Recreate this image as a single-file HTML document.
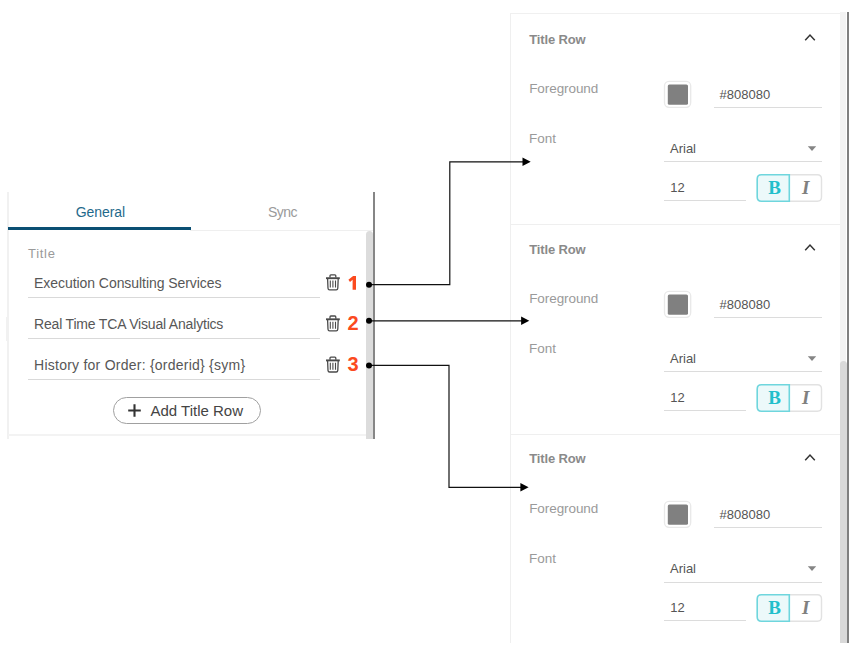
<!DOCTYPE html>
<html><head><meta charset="utf-8"><title>Title Rows</title>
<style>
html,body{margin:0;padding:0;background:#fff;}
body{width:851px;height:645px;position:relative;overflow:hidden;font-family:"Liberation Sans",sans-serif;}
.t{position:absolute;line-height:1;white-space:nowrap;}
.b{position:absolute;box-sizing:border-box;}
svg{position:absolute;left:0;top:0;}
</style></head><body>

<div class="b" style="left:7px;top:192px;width:2px;height:247px;background:#f1f1f1;"></div>
<div class="b" style="left:6px;top:317px;width:1px;height:24px;background:#f1f1f1;"></div>
<div class="b" style="left:8px;top:434px;width:358px;height:2px;background:#f3f3f3;"></div>
<div class="b" style="left:190px;top:230px;width:183px;height:1px;background:#efefef;"></div>
<div class="b" style="left:8px;top:227px;width:183px;height:3px;background:#0b4f73;"></div>
<div class="b" style="left:366px;top:231px;width:7px;height:208.3px;background:#dcdcdc;border-radius:4px 4px 0 0;"></div>
<div class="b" style="left:373px;top:192px;width:2px;height:247.3px;background:#868686;"></div>
<div class="b" style="left:28px;top:297px;width:292px;height:1px;background:#d9d9d9;"></div>
<div class="b" style="left:28px;top:338px;width:292px;height:1px;background:#d9d9d9;"></div>
<div class="b" style="left:28px;top:379px;width:292px;height:1px;background:#d9d9d9;"></div>
<div class="b" style="left:113px;top:397px;width:148px;height:27px;border:1px solid #a0a0a0;border-radius:14px;background:#fff;"></div>
<div class="b" style="left:510px;top:13px;width:1px;height:630px;background:#efefef;"></div>
<div class="b" style="left:510px;top:13px;width:331px;height:1px;background:#f0f0f0;"></div>
<div class="b" style="left:840px;top:12px;width:6px;height:631px;background:#f3f3f3;"></div>
<div class="b" style="left:840px;top:361px;width:7px;height:282px;background:#d9d9d9;border-radius:4px 4px 0 0;"></div>
<div class="b" style="left:847px;top:12px;width:2px;height:631px;background:#808080;"></div>
<div class="b" style="left:713.5px;top:107px;width:108.5px;height:1px;background:#dcdcdc;"></div>
<div class="b" style="left:664px;top:161px;width:158px;height:1px;background:#dcdcdc;"></div>
<div class="b" style="left:664px;top:200px;width:81.5px;height:1px;background:#dcdcdc;"></div>
<div class="b" style="left:510px;top:224px;width:330px;height:1px;background:#efefef;"></div>
<div class="b" style="left:713.5px;top:317px;width:108.5px;height:1px;background:#dcdcdc;"></div>
<div class="b" style="left:664px;top:371px;width:158px;height:1px;background:#dcdcdc;"></div>
<div class="b" style="left:664px;top:410px;width:81.5px;height:1px;background:#dcdcdc;"></div>
<div class="b" style="left:510px;top:434px;width:330px;height:1px;background:#efefef;"></div>
<div class="b" style="left:713.5px;top:527px;width:108.5px;height:1px;background:#dcdcdc;"></div>
<div class="b" style="left:664px;top:582px;width:158px;height:1px;background:#dcdcdc;"></div>
<div class="b" style="left:664px;top:620px;width:81.5px;height:1px;background:#dcdcdc;"></div>
<svg width="851" height="645" viewBox="0 0 851 645">
<g fill="none" stroke="#111" stroke-width="1.2">
<path d="M369 284.7 H449.8 V161.8 H523"/>
<path d="M369 320.8 H523"/>
<path d="M369 365.4 H449 V487.3 H523"/>
</g>
<g fill="#000">
<circle cx="369" cy="284.7" r="3"/>
<circle cx="369" cy="320.8" r="3"/>
<circle cx="369" cy="365.4" r="3"/>
<path d="M530.7 161.8 L522.5 157.60000000000002 L522.5 166.0 Z"/>
<path d="M529.3 320.8 L521.0999999999999 316.6 L521.0999999999999 325.0 Z"/>
<path d="M528.6 487.3 L520.4 483.1 L520.4 491.5 Z"/>
</g>
<path d="M805.2 40.3 L810 35 L814.8 40.3" fill="none" stroke="#333" stroke-width="1.5"/>
<path d="M807.8 146.3 H816.2 L812 150.9 Z" fill="#858585"/>
<path d="M789.3 174.7 H817.3 Q821.5 174.7 821.5 178.89999999999998 V197.10000000000002 Q821.5 201.3 817.3 201.3 H789.3" fill="#fff" stroke="#e2e2e2" stroke-width="1.4"/>
<path d="M789.3 174.7 H761.4 Q757.2 174.7 757.2 178.89999999999998 V197.10000000000002 Q757.2 201.3 761.4 201.3 H789.3 Z" fill="#ecf9fa" stroke="#6fd6dd" stroke-width="1.6"/>
<rect x="664.5" y="81.3" width="26.2" height="26" rx="4.5" fill="#fff" stroke="#e9e9e9" stroke-width="1.3"/>
<rect x="667.8" y="84.4" width="20.2" height="20.4" rx="1.6" fill="#808080"/>
<path d="M805.2 250.3 L810 245 L814.8 250.3" fill="none" stroke="#333" stroke-width="1.5"/>
<path d="M807.8 356.3 H816.2 L812 360.9 Z" fill="#858585"/>
<path d="M789.3 384.7 H817.3 Q821.5 384.7 821.5 388.9 V407.1 Q821.5 411.3 817.3 411.3 H789.3" fill="#fff" stroke="#e2e2e2" stroke-width="1.4"/>
<path d="M789.3 384.7 H761.4 Q757.2 384.7 757.2 388.9 V407.1 Q757.2 411.3 761.4 411.3 H789.3 Z" fill="#ecf9fa" stroke="#6fd6dd" stroke-width="1.6"/>
<rect x="664.5" y="291.3" width="26.2" height="26" rx="4.5" fill="#fff" stroke="#e9e9e9" stroke-width="1.3"/>
<rect x="667.8" y="294.4" width="20.2" height="20.4" rx="1.6" fill="#808080"/>
<path d="M805.2 460.3 L810 455 L814.8 460.3" fill="none" stroke="#333" stroke-width="1.5"/>
<path d="M807.8 566.3 H816.2 L812 570.9 Z" fill="#858585"/>
<path d="M789.3 594.7 H817.3 Q821.5 594.7 821.5 598.9000000000001 V617.0999999999999 Q821.5 621.3 817.3 621.3 H789.3" fill="#fff" stroke="#e2e2e2" stroke-width="1.4"/>
<path d="M789.3 594.7 H761.4 Q757.2 594.7 757.2 598.9000000000001 V617.0999999999999 Q757.2 621.3 761.4 621.3 H789.3 Z" fill="#ecf9fa" stroke="#6fd6dd" stroke-width="1.6"/>
<rect x="664.5" y="501.3" width="26.2" height="26" rx="4.5" fill="#fff" stroke="#e9e9e9" stroke-width="1.3"/>
<rect x="667.8" y="504.4" width="20.2" height="20.4" rx="1.6" fill="#808080"/>
<path d="M356 275.9 H353.1 L348.4 279.7 L350 281.9 L352.6 279.8 V289.7 H356 Z" fill="#fb4a1e"/>
<path d="M128.2 410.5 H140.8 M134.5 404.2 V416.8" stroke="#333" stroke-width="2.1" fill="none"/>
<g transform="translate(326,274.2)" fill="none" stroke="#4a4a4a"><path d="M0 4 H13.8" stroke-width="1.9"/><path d="M4 3.4 V1.6 Q4 0.7 4.9 0.7 H8.9 Q9.8 0.7 9.8 1.6 V3.4" stroke-width="1.3"/><path d="M1.6 4.6 L2 14 Q2.1 15.6 3.6 15.6 H10.2 Q11.7 15.6 11.8 14 L12.2 4.6" stroke-width="1.3"/><path d="M4.3 6.4 V13.4 M6.9 6.4 V13.4 M9.5 6.4 V13.4" stroke-width="1.1"/></g>
<g transform="translate(326,315.3)" fill="none" stroke="#4a4a4a"><path d="M0 4 H13.8" stroke-width="1.9"/><path d="M4 3.4 V1.6 Q4 0.7 4.9 0.7 H8.9 Q9.8 0.7 9.8 1.6 V3.4" stroke-width="1.3"/><path d="M1.6 4.6 L2 14 Q2.1 15.6 3.6 15.6 H10.2 Q11.7 15.6 11.8 14 L12.2 4.6" stroke-width="1.3"/><path d="M4.3 6.4 V13.4 M6.9 6.4 V13.4 M9.5 6.4 V13.4" stroke-width="1.1"/></g>
<g transform="translate(326,356.4)" fill="none" stroke="#4a4a4a"><path d="M0 4 H13.8" stroke-width="1.9"/><path d="M4 3.4 V1.6 Q4 0.7 4.9 0.7 H8.9 Q9.8 0.7 9.8 1.6 V3.4" stroke-width="1.3"/><path d="M1.6 4.6 L2 14 Q2.1 15.6 3.6 15.6 H10.2 Q11.7 15.6 11.8 14 L12.2 4.6" stroke-width="1.3"/><path d="M4.3 6.4 V13.4 M6.9 6.4 V13.4 M9.5 6.4 V13.4" stroke-width="1.1"/></g>
</svg>
<span class="t" style="left:75.70px;top:204.65px;font-size:14px;color:#1f6a8c;font-weight:normal;font-style:normal;font-family:'Liberation Sans',sans-serif;letter-spacing:-0.05px;">General</span>
<span class="t" style="left:268.00px;top:204.65px;font-size:14px;color:#9a9a9a;font-weight:normal;font-style:normal;font-family:'Liberation Sans',sans-serif;letter-spacing:-0.5px;">Sync</span>
<span class="t" style="left:28.00px;top:247.20px;font-size:13px;color:#9a9a9a;font-weight:normal;font-style:normal;font-family:'Liberation Sans',sans-serif;letter-spacing:0.7px;">Title</span>
<span class="t" style="left:34.10px;top:276.15px;font-size:14px;color:#575757;font-weight:normal;font-style:normal;font-family:'Liberation Sans',sans-serif;letter-spacing:-0.06px;">Execution Consulting Services</span>
<span class="t" style="left:34.10px;top:317.15px;font-size:14px;color:#575757;font-weight:normal;font-style:normal;font-family:'Liberation Sans',sans-serif;letter-spacing:-0.19px;">Real Time TCA Visual Analytics</span>
<span class="t" style="left:347.40px;top:312.87px;font-size:20px;color:#fb4a1e;font-weight:bold;font-style:normal;font-family:'Liberation Sans',sans-serif;letter-spacing:0px;">2</span>
<span class="t" style="left:34.10px;top:358.15px;font-size:14px;color:#575757;font-weight:normal;font-style:normal;font-family:'Liberation Sans',sans-serif;letter-spacing:0.24px;">History for Order: {orderid} {sym}</span>
<span class="t" style="left:347.40px;top:353.67px;font-size:20px;color:#fb4a1e;font-weight:bold;font-style:normal;font-family:'Liberation Sans',sans-serif;letter-spacing:0px;">3</span>
<span class="t" style="left:150.50px;top:403.30px;font-size:15px;color:#444;font-weight:normal;font-style:normal;font-family:'Liberation Sans',sans-serif;letter-spacing:0px;">Add Title Row</span>
<span class="t" style="left:529.30px;top:33.20px;font-size:13px;color:#8a8a8a;font-weight:bold;font-style:normal;font-family:'Liberation Sans',sans-serif;letter-spacing:-0.15px;">Title Row</span>
<span class="t" style="left:529.20px;top:82.37px;font-size:13.5px;color:#9a9a9a;font-weight:normal;font-style:normal;font-family:'Liberation Sans',sans-serif;letter-spacing:-0.08px;">Foreground</span>
<span class="t" style="left:719.50px;top:88.20px;font-size:13px;color:#555;font-weight:normal;font-style:normal;font-family:'Liberation Sans',sans-serif;letter-spacing:0px;">#808080</span>
<span class="t" style="left:529.00px;top:132.17px;font-size:13.5px;color:#9a9a9a;font-weight:normal;font-style:normal;font-family:'Liberation Sans',sans-serif;letter-spacing:0px;">Font</span>
<span class="t" style="left:670.00px;top:142.20px;font-size:13px;color:#555;font-weight:normal;font-style:normal;font-family:'Liberation Sans',sans-serif;letter-spacing:0px;">Arial</span>
<span class="t" style="left:670.30px;top:180.50px;font-size:13px;color:#555;font-weight:normal;font-style:normal;font-family:'Liberation Sans',sans-serif;letter-spacing:0px;">12</span>
<span class="t" style="left:768.20px;top:178.33px;font-size:19px;color:#22bfcb;font-weight:bold;font-style:normal;font-family:'Liberation Serif',serif;letter-spacing:0px;">B</span>
<span class="t" style="left:802.00px;top:178.33px;font-size:19px;color:#808080;font-weight:bold;font-style:italic;font-family:'Liberation Serif',serif;letter-spacing:0px;">I</span>
<span class="t" style="left:529.30px;top:243.20px;font-size:13px;color:#8a8a8a;font-weight:bold;font-style:normal;font-family:'Liberation Sans',sans-serif;letter-spacing:-0.15px;">Title Row</span>
<span class="t" style="left:529.20px;top:292.37px;font-size:13.5px;color:#9a9a9a;font-weight:normal;font-style:normal;font-family:'Liberation Sans',sans-serif;letter-spacing:-0.08px;">Foreground</span>
<span class="t" style="left:719.50px;top:298.20px;font-size:13px;color:#555;font-weight:normal;font-style:normal;font-family:'Liberation Sans',sans-serif;letter-spacing:0px;">#808080</span>
<span class="t" style="left:529.00px;top:342.17px;font-size:13.5px;color:#9a9a9a;font-weight:normal;font-style:normal;font-family:'Liberation Sans',sans-serif;letter-spacing:0px;">Font</span>
<span class="t" style="left:670.00px;top:352.20px;font-size:13px;color:#555;font-weight:normal;font-style:normal;font-family:'Liberation Sans',sans-serif;letter-spacing:0px;">Arial</span>
<span class="t" style="left:670.30px;top:390.50px;font-size:13px;color:#555;font-weight:normal;font-style:normal;font-family:'Liberation Sans',sans-serif;letter-spacing:0px;">12</span>
<span class="t" style="left:768.20px;top:388.33px;font-size:19px;color:#22bfcb;font-weight:bold;font-style:normal;font-family:'Liberation Serif',serif;letter-spacing:0px;">B</span>
<span class="t" style="left:802.00px;top:388.33px;font-size:19px;color:#808080;font-weight:bold;font-style:italic;font-family:'Liberation Serif',serif;letter-spacing:0px;">I</span>
<span class="t" style="left:529.30px;top:452.20px;font-size:13px;color:#8a8a8a;font-weight:bold;font-style:normal;font-family:'Liberation Sans',sans-serif;letter-spacing:-0.15px;">Title Row</span>
<span class="t" style="left:529.20px;top:502.37px;font-size:13.5px;color:#9a9a9a;font-weight:normal;font-style:normal;font-family:'Liberation Sans',sans-serif;letter-spacing:-0.08px;">Foreground</span>
<span class="t" style="left:719.50px;top:508.20px;font-size:13px;color:#555;font-weight:normal;font-style:normal;font-family:'Liberation Sans',sans-serif;letter-spacing:0px;">#808080</span>
<span class="t" style="left:529.00px;top:552.17px;font-size:13.5px;color:#9a9a9a;font-weight:normal;font-style:normal;font-family:'Liberation Sans',sans-serif;letter-spacing:0px;">Font</span>
<span class="t" style="left:670.00px;top:562.20px;font-size:13px;color:#555;font-weight:normal;font-style:normal;font-family:'Liberation Sans',sans-serif;letter-spacing:0px;">Arial</span>
<span class="t" style="left:670.30px;top:600.50px;font-size:13px;color:#555;font-weight:normal;font-style:normal;font-family:'Liberation Sans',sans-serif;letter-spacing:0px;">12</span>
<span class="t" style="left:768.20px;top:598.33px;font-size:19px;color:#22bfcb;font-weight:bold;font-style:normal;font-family:'Liberation Serif',serif;letter-spacing:0px;">B</span>
<span class="t" style="left:802.00px;top:598.33px;font-size:19px;color:#808080;font-weight:bold;font-style:italic;font-family:'Liberation Serif',serif;letter-spacing:0px;">I</span>
</body></html>
